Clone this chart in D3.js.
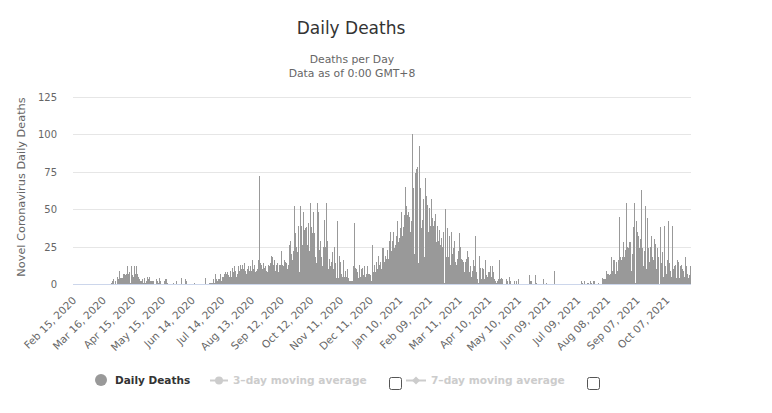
<!DOCTYPE html>
<html><head><meta charset="utf-8">
<script src="https://cdn.jsdelivr.net/npm/d3@7"></script>
<style>body{margin:0;background:#fff}svg{display:block;font-family:"DejaVu Sans",Verdana,sans-serif}</style>
</head><body><svg id="c" width="772" height="413"></svg>
<script>
// ---- data ----
const startDate = "2020-02-13";
const earlyZeros = [0,0,0,0,0,0,0,0,0,0,0,0,0,0,0,0,0,0,0,0,0,0,0,0,0,0,0,0,0,0,0,0,0,0,0,0,0,0];
const wave1 = [1,2,3,0,2,0,3,5,3,9,4,4,4,7,
  7,6,
  7,12,7,8,1,12,6,5,12,7,12,7,5,3,2,2,3,1,4,1,2,5,3,5,2,2,2,2,
  0,0,3,2,1,4,2,0,0,0,2,3,3,1,
  0,0,0,0,0,1,0,0,2,0,0,0,0,4,0,0,0,3,2,0,0,0,0,0,0,0,1,0,0,0,0,0,0,0,0,0,0,4,2];
const wave2 = [0,0,0,
  1,1,1,1,3,1,7,3,2,3,3,7,2,5,5,7,8,7,
  8,6,
  5,9,5,11,8,12,9,5,7,12,9,13,10,13,10,14,9,7,10,12,9,12,9,16,10,13,8,9,10,16,72,
  14,13,10,14,11,12,9,8,13,12,14,19,18,13,16,9,13,14,8,13,13,22,13,12,16,15,14,10,13,26,29,20,16,22,
  39,52,34,25,21,39,8,52,39,26,48,36,37,38,26,41,22,54,38,34,48,34,18,14,54,48,23,29,18,12,25,43,25,54,29,10,17];
const wave3 = [12,15,
  21,10,25,14,4,42,4,19,
  15,7,5,16,5,9,5,10,4,2,2,2,2,12,41,11,10,8,4,13,5,10,11,6,12,5,7,12,7,7,6,2,26,
  8,13,8,15,10,19,13,15,10,24,15,24,15,19,17,23,17,29,35,22,29,35,24,26,32,42,28,31,37,48,32,38,46,
  65,52,46,48,45,35,42,100,64,20,74,77,78,14,92,64,37,43,57,18,71,59,53,35,51,39,57,44];
const spring2021 = [39,42,
  47,28,39,29,36,26,31,25,35,1,50,18,37,18,32,13,35,20,24,29,15,13,17,22,34,25,17,16,15,8,15,17,22,18,8,
  12,7,5,9,16,12,32,8,3,1,19,11,3,11,10,3,16,6,5,8,8,12,5,12,8,3,2,1,2,3,16,3,4,3,
  0,0,0,3,2,0,5,2,0,0,0,2,0,2,0,3,0,0,0,0,0,0,0,0,0,0,6,2,2,0,0,0,6];
const summer2021 = [1,0,
  0,0,0,0,0,3,0,0,1,0,0,0,0,0,0,0,9,
  0,0,0,0,0,0,0,0,0,0,0,0,0,0,0,0,0,0,0,0,0,0,0,0,0,0,0,
  2,1,0,2,0,0,1,1,0,2,1,0,2,2,0,0,0,1,0,0,0];
const wave4 = [4,3,3,3,9,7,7,6,7,18,9,16,16,7,15,9,16,45,18,16,18,28,18,23,54,25,24,28,28,9,20,38,54,1,42,35,32,
  24,30,
  63,24,12,22,52,10,44,16,24,15,25,32,18,16,30,27,10,24,18,0,38,14,21,5,39,12,7,16,42,14,9,5,39,10,12,13,4,16,15,4,12,13,10,9,5,18,12,7,4,6,12];
const tickLabels = ["Feb 15, 2020","Mar 16, 2020","Apr 15, 2020","May 15, 2020","Jun 14, 2020","Jul 14, 2020",
  "Aug 13, 2020","Sep 12, 2020","Oct 12, 2020","Nov 11, 2020","Dec 11, 2020","Jan 10, 2021","Feb 09, 2021",
  "Mar 11, 2021","Apr 10, 2021","May 10, 2021","Jun 09, 2021","Jul 09, 2021","Aug 08, 2021","Sep 07, 2021","Oct 07, 2021"];
const yTicks = [0,25,50,75,100,125];

// ---- build ----
const values = [].concat(earlyZeros, wave1, wave2, wave3, spring2021, summer2021, wave4);
const t0 = d3.timeParse("%Y-%m-%d")(startDate);
const data = values.map((v,i)=>({date:d3.timeDay.offset(t0,i), v}));
const tEnd = d3.timeDay.offset(t0, values.length-1);

const svg = d3.select("#c");
const L = 73, R = 691, B = 284, T = 96.5;
const x = d3.scaleTime().domain([d3.timeHour.offset(t0,-12), d3.timeHour.offset(tEnd,12)]).range([L,R]);
const y = d3.scaleLinear().domain([0,125]).range([B,T]);

// gridlines
svg.append("g").selectAll("line").data(yTicks.filter(d=>d>0)).join("line")
  .attr("x1",L).attr("x2",R).attr("y1",d=>Math.round(y(d))+0.5).attr("y2",d=>Math.round(y(d))+0.5)
  .attr("stroke","#e6e6e6").attr("stroke-width",1);

// bars (pixel-snapped, one column per day)
const x0 = d=>Math.round(x(d3.timeHour.offset(d.date,-12)));
const x1 = d=>Math.round(x(d3.timeHour.offset(d.date,12)));
svg.append("g").attr("shape-rendering","crispEdges").selectAll("rect").data(data).join("rect")
  .attr("x",x0)
  .attr("width",d=>Math.max(1,x1(d)-x0(d)))
  .attr("y",d=>Math.round(y(d.v))).attr("height",d=>B-Math.round(y(d.v)))
  .attr("fill","#999999");

// x axis
const tickDates = tickLabels.map(d3.timeParse("%b %d, %Y"));
const xAxis = d3.axisBottom(x).tickValues(tickDates).tickFormat(d3.timeFormat("%b %d, %Y")).tickSize(0).tickPadding(0);
const gx = svg.append("g").attr("transform",`translate(0,${B})`).call(xAxis);
gx.select(".domain").attr("stroke","#ccd6eb").attr("d",`M${L},0.5H${R}`);
gx.selectAll(".tick text")
  .attr("font-family","DejaVu Sans, Verdana, sans-serif").attr("font-size","10.5px").attr("fill","#666")
  .attr("text-anchor","end").attr("dy",null).attr("y",null)
  .attr("transform","translate(1,17) rotate(-45)");

// y axis labels
const gy = svg.append("g");
const yAxis = d3.axisLeft(y).tickValues(yTicks).tickSize(0).tickPadding(0);
gy.attr("transform",`translate(57,0)`).call(yAxis);
gy.select(".domain").remove();
gy.selectAll(".tick text").attr("font-family","DejaVu Sans, Verdana, sans-serif").attr("font-size","10px").attr("fill","#666").attr("dy","0.35em");

// y title
svg.append("text").attr("transform","translate(25,187) rotate(-90)").attr("text-anchor","middle")
  .attr("font-size","11.3px").attr("fill","#666").text("Novel Coronavirus Daily Deaths");

// titles
svg.append("text").attr("x",351).attr("y",34).attr("text-anchor","middle").attr("font-size","17px").attr("fill","#333").text("Daily Deaths");
svg.append("text").attr("x",352).attr("y",63).attr("text-anchor","middle").attr("font-size","10.8px").attr("fill","#666").text("Deaths per Day");
svg.append("text").attr("x",352).attr("y",77).attr("text-anchor","middle").attr("font-size","10.8px").attr("fill","#666").text("Data as of 0:00 GMT+8");

// legend
const lg = svg.append("g");
lg.append("circle").attr("cx",101).attr("cy",380).attr("r",6).attr("fill","#999999");
lg.append("text").attr("x",115).attr("y",384).attr("font-size","10.5px").attr("font-weight","bold").attr("fill","#333").text("Daily Deaths");
lg.append("line").attr("x1",210).attr("x2",228).attr("y1",380.5).attr("y2",380.5).attr("stroke","#cccccc").attr("stroke-width",2);
lg.append("circle").attr("cx",219).attr("cy",380.5).attr("r",4).attr("fill","#cccccc");
lg.append("text").attr("x",233).attr("y",384).attr("font-size","10.6px").attr("font-weight","bold").attr("fill","#cccccc").text("3\u2013day moving average");
lg.append("rect").attr("x",389.5).attr("y",377.5).attr("width",12).attr("height",12).attr("rx",2).attr("fill","#fff").attr("stroke","#555");
lg.append("line").attr("x1",406).attr("x2",426).attr("y1",380.5).attr("y2",380.5).attr("stroke","#cccccc").attr("stroke-width",2);
lg.append("path").attr("d","M416,376.5L420,380.5L416,384.5L412,380.5Z").attr("fill","#cccccc");
lg.append("text").attr("x",431).attr("y",384).attr("font-size","10.6px").attr("font-weight","bold").attr("fill","#cccccc").text("7\u2013day moving average");
lg.append("rect").attr("x",587.5).attr("y",377.5).attr("width",12).attr("height",12).attr("rx",2).attr("fill","#fff").attr("stroke","#555");
</script></body></html>
